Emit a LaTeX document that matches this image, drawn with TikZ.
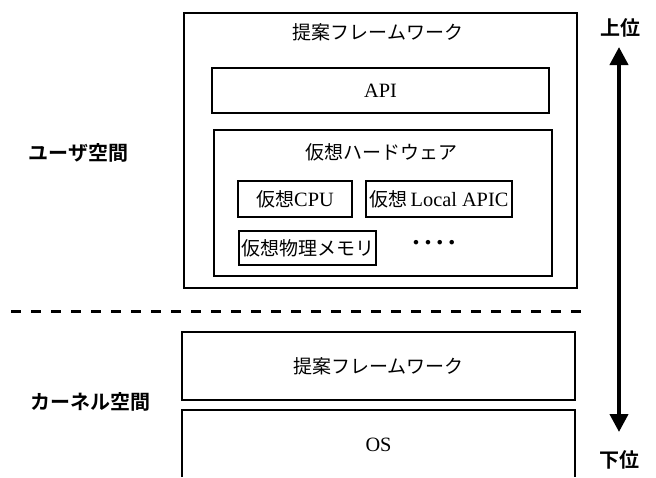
\documentclass[tikz,border=0pt]{standalone}
\usepackage{fontspec}
\setmainfont{Liberation Serif}[Scale=1.07]
\newfontfamily\jp{Noto Sans CJK JP}[BoldFont={Noto Sans CJK JP Bold}]
\usetikzlibrary{arrows.meta}

\tikzset{
  every node/.style={font=\fontsize{19}{22}\selectfont},
  layer/.style={draw, line width=1.8pt, inner sep=0pt},
  part/.style={layer, minimum height=36pt},
  heading/.style={font=\jp\fontsize{19}{22}\selectfont},
  space/.style={font=\jp\bfseries\fontsize{20}{22}\selectfont},
  border/.style={line width=3pt, dash pattern=on 10pt off 10pt},
  rank/.style={line width=4pt, {Triangle[width=18pt,length=18pt]}-{Triangle[width=18pt,length=18pt]}}
}

\begin{document}
\begin{tikzpicture}[x=1pt, y=-1pt]
\useasboundingbox (0,0) rectangle (656,477);

% user space
\node[layer, minimum width=393pt, minimum height=275pt] (user) at (380.5,150.5) {};
\node[heading] (userfw) at (378,32) {提案フレームワーク};
\node[layer, minimum width=337pt, minimum height=45pt] (api) at (380.5,90.5) {API};
\node[layer, minimum width=338pt, minimum height=146pt] (vhw) at (383,203) {};
\node[heading] (vhwtitle) at (381,152) {仮想ハードウェア};
\node[part, minimum width=114pt] (vcpu) at (295,199) {{\jp 仮想}CPU};
\node[part, minimum width=146pt] (vapic) at (439,199) {{\jp 仮想}\hspace{3pt}Local APIC};
\node[part, minimum width=137pt, minimum height=34pt] (vmem) at (307.5,248) {{\jp 仮想物理メモリ}};
\node[font=\bfseries\fontsize{26}{26}\selectfont] (more) at (434,243) {.\hspace{5pt}.\hspace{5pt}.\hspace{5pt}.};

% boundary
\coordinate (sepl) at (11,311);
\coordinate (sepr) at (588,311);
\draw[border] (sepl) -- (sepr);

% kernel space
\node[layer, minimum width=393pt, minimum height=68pt] (kfw) at (378.5,366) {{\jp 提案フレームワーク}};
\coordinate (osbl) at (182,477);
\coordinate (ostl) at (182,410);
\coordinate (ostr) at (575,410);
\coordinate (osbr) at (575,477);
\draw[line width=1.8pt] (osbl) -- (ostl) -- (ostr) -- (osbr);
\node (os) at (378.5,445) {OS};

% labels
\node[space] (userlbl) at (78.5,153) {ユーザ空間};
\node[space] (kernlbl) at (90,402) {カーネル空間};
\node[space] (hi) at (620,28) {上位};
\node[space] (lo) at (619,460) {下位};
\coordinate (hitip) at (619,47);
\coordinate (lotip) at (619,432);
\draw[rank] (hitip) -- (lotip);
\end{tikzpicture}
\end{document}
